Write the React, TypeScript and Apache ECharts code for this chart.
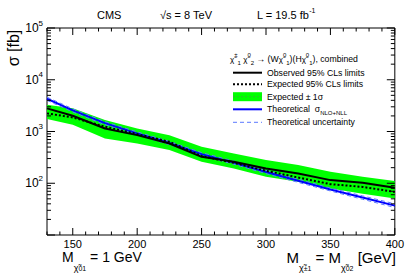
import React, { useEffect, useRef } from 'react';
import * as echarts from 'echarts';

const masses = [130, 150, 175, 200, 225, 250, 275, 300, 325, 350, 375, 400];
const observed = [2800, 2015, 1145, 851, 587, 324, 260, 193, 155, 115, 102, 82];
const expected = [2240, 1870, 1235, 890, 633, 334, 248, 174, 129, 96, 85, 68];
const expUp = [3300, 2800, 1660, 1145, 851, 507, 377, 280, 224, 166, 133, 111];
const expDown = [1750, 1350, 735, 588, 437, 260, 193, 133, 107, 79, 63, 51];
const theory = [4300, 2560, 1450, 920, 600, 365, 250, 165, 112, 76, 53, 37];
const theoryUp = [4600, 2740, 1550, 985, 642, 391, 268, 177, 120, 81, 57, 40];
const theoryDown = [4000, 2380, 1350, 856, 558, 340, 233, 153, 104, 71, 49, 34];

const xMajorTicks = [150, 200, 250, 300, 350, 400];
const xMinorTicks = [130, 140, 160, 170, 180, 190, 210, 220, 230, 240, 260, 270, 280, 290, 310, 320, 330, 340, 360, 370, 380, 390];
const yMajorTicks = [10, 100, 1000, 10000, 100000];
const yMinorTicks = [
  20, 30, 40, 50, 60, 70, 80, 90,
  200, 300, 400, 500, 600, 700, 800, 900,
  2000, 3000, 4000, 5000, 6000, 7000, 8000, 9000,
  20000, 30000, 40000, 50000, 60000, 70000, 80000, 90000,
];
const X_MIN = 130;
const X_MAX = 400;
const Y_MIN = 10;
const Y_MAX = 100000;

const F = '"Liberation Sans", Arial, Helvetica, sans-serif';

export default function App() {
  const ref = useRef<HTMLDivElement>(null);
  useEffect(() => {
    if (!ref.current) return;
    const chart = echarts.init(ref.current, undefined, { renderer: 'svg' });

    const xTickData = [
      ...xMajorTicks.map((v) => [v, 100, 1]),
      ...xMinorTicks.map((v) => [v, 100, 0]),
    ];
    const yTickData = [
      ...yMajorTicks.map((v) => [X_MIN, v, 1]),
      ...yMinorTicks.map((v) => [X_MIN, v, 0]),
    ];

    const legendRich = {
      n: { fontSize: 8.7, fontFamily: F, fill: '#000', lineHeight: 14, verticalAlign: 'middle' },
      c: { fontSize: 8, fontFamily: F, fill: '#000', lineHeight: 14, verticalAlign: 'middle' },
      sp: { fontSize: 6, fontFamily: F, fill: '#000', lineHeight: 6, verticalAlign: 'top' },
      sb: { fontSize: 6, fontFamily: F, fill: '#000', lineHeight: 6, verticalAlign: 'bottom' },
    };
    const titleRich = {
      n: { fontSize: 15, fontFamily: F, fill: '#000', lineHeight: 30, verticalAlign: 'middle' },
      chi: { fontSize: 9, fontFamily: F, fill: '#000', lineHeight: 19, verticalAlign: 'bottom' },
      up: { fontSize: 7, fontFamily: F, fill: '#000', lineHeight: 30, verticalAlign: 'bottom' },
      dn: { fontSize: 7, fontFamily: F, fill: '#000', lineHeight: 12, verticalAlign: 'bottom' },
    };

    const legendY = [72.7, 84.3, 96.7, 109.3, 122.3];
    const lx1 = 233;
    const lx2 = 262;
    const tx = 267;

    const option: any = {
      animation: false,
      grid: {
        left: 47, right: 12, top: 28, bottom: 42,
        show: true, borderColor: '#000', borderWidth: 1, backgroundColor: 'transparent',
      },
      xAxis: {
        type: 'value', min: X_MIN, max: X_MAX, interval: 10,
        axisLine: { show: false }, axisTick: { show: false }, splitLine: { show: false },
        axisLabel: {
          interval: 0, margin: 3, color: '#000', fontSize: 11, fontFamily: F,
          formatter: (v: number) => (v % 50 === 0 ? String(v) : ''),
        },
      },
      yAxis: {
        type: 'log', logBase: 10, min: Y_MIN, max: Y_MAX,
        axisLine: { show: false }, axisTick: { show: false }, splitLine: { show: false },
        axisLabel: {
          margin: 4, color: '#000', fontFamily: F,
          formatter: (v: number) => {
            const e = Math.round(Math.log10(v));
            if (e <= 1) return '';
            return '{b|10}{s|' + e + '}';
          },
          rich: {
            b: { fontSize: 12, fontFamily: F, color: '#000', lineHeight: 18, verticalAlign: 'middle' },
            s: { fontSize: 8, fontFamily: F, color: '#000', lineHeight: 8, verticalAlign: 'top' },
          },
        },
      },
      series: [
        {
          name: 'Expected ±1σ', type: 'custom', silent: true, z: 1,
          data: masses.map((m, i) => [m, expDown[i], expUp[i]]),
          encode: { x: 0, y: [1, 2] },
          renderItem: (params: any, api: any) => {
            if (params.dataIndex !== 0) return null;
            const pts: number[][] = [];
            for (let i = 0; i < masses.length; i++) pts.push(api.coord([masses[i], expUp[i]]));
            for (let i = masses.length - 1; i >= 0; i--) pts.push(api.coord([masses[i], expDown[i]]));
            return { type: 'polygon', shape: { points: pts }, style: { fill: '#00ff00', stroke: 'none' } };
          },
        },
        {
          name: 'Theoretical', type: 'line', symbol: 'none', z: 3,
          data: masses.map((m, i) => [m, theory[i]]),
          lineStyle: { color: '#0000ff', width: 2 },
        },
        {
          name: 'Theory up', type: 'line', symbol: 'none', z: 4,
          data: masses.map((m, i) => [m, theoryUp[i]]),
          lineStyle: { color: '#5a78ff', width: 1, type: [4, 3] },
        },
        {
          name: 'Theory down', type: 'line', symbol: 'none', z: 4,
          data: masses.map((m, i) => [m, theoryDown[i]]),
          lineStyle: { color: '#5a78ff', width: 1, type: [4, 3] },
        },
        {
          name: 'Expected', type: 'line', symbol: 'none', z: 5,
          data: masses.map((m, i) => [m, expected[i]]),
          lineStyle: { color: '#000', width: 2, type: [2, 2] },
        },
        {
          name: 'Observed', type: 'line', symbol: 'none', z: 6,
          data: masses.map((m, i) => [m, observed[i]]),
          lineStyle: { color: '#000', width: 2 },
        },
        {
          type: 'custom', silent: true, clip: false, z: 10,
          data: xTickData, encode: { x: 0, y: 1 },
          renderItem: (_p: any, api: any) => {
            const v = api.value(0);
            const len = api.value(2) === 1 ? 7 : 3.5;
            const b = api.coord([v, Y_MIN]);
            const t = api.coord([v, Y_MAX]);
            return {
              type: 'group', children: [
                { type: 'line', shape: { x1: b[0], y1: b[1], x2: b[0], y2: b[1] - len }, style: { stroke: '#000', lineWidth: 1 } },
                { type: 'line', shape: { x1: t[0], y1: t[1], x2: t[0], y2: t[1] + len }, style: { stroke: '#000', lineWidth: 1 } },
              ],
            };
          },
        },
        {
          type: 'custom', silent: true, clip: false, z: 10,
          data: yTickData, encode: { x: 0, y: 1 },
          renderItem: (_p: any, api: any) => {
            const v = api.value(1);
            const len = api.value(2) === 1 ? 8 : 4;
            const l = api.coord([X_MIN, v]);
            const r = api.coord([X_MAX, v]);
            return {
              type: 'group', children: [
                { type: 'line', shape: { x1: l[0], y1: l[1], x2: l[0] + len, y2: l[1] }, style: { stroke: '#000', lineWidth: 1 } },
                { type: 'line', shape: { x1: r[0], y1: r[1], x2: r[0] - len, y2: r[1] }, style: { stroke: '#000', lineWidth: 1 } },
              ],
            };
          },
        },
      ],
      graphic: [
        { type: 'text', left: 97, top: 9, style: { text: 'CMS', fontSize: 11, fontFamily: F, fill: '#000' } },
        { type: 'text', left: 160, top: 9, style: { text: '√s = 8 TeV', fontSize: 11, fontFamily: F, fill: '#000' } },
        {
          type: 'text', x: 257, y: 15,
          style: {
            text: '{n|L = 19.5 fb}{s|-1}', verticalAlign: 'middle', align: 'left',
            rich: {
              n: { fontSize: 11, fontFamily: F, fill: '#000', lineHeight: 16, verticalAlign: 'middle' },
              s: { fontSize: 7, fontFamily: F, fill: '#000', lineHeight: 7, verticalAlign: 'top' },
            },
          },
        },
        {
          type: 'text', x: 13, y: 48, rotation: Math.PI / 2,
          style: { text: 'σ [fb]', fontSize: 16, fontFamily: F, fill: '#000', align: 'center', verticalAlign: 'middle' },
        },
        {
          type: 'text', x: 396, y: 257,
          style: {
            text: '{n|M}{chi|χ̃}{up|±}{dn|1}{n| = M}{chi|χ̃}{up|0}{dn|2}{n| [GeV]}',
            align: 'right', verticalAlign: 'middle', rich: titleRich,
          },
        },
        {
          type: 'text', x: 62, y: 257,
          style: {
            text: '{n|M}{chi|χ̃}{up|0}{dn|1}{n| = 1 GeV}',
            align: 'left', verticalAlign: 'middle',
            rich: {
              n: { fontSize: 14, fontFamily: F, fill: '#000', lineHeight: 30, verticalAlign: 'middle' },
              chi: { fontSize: 9, fontFamily: F, fill: '#000', lineHeight: 19, verticalAlign: 'bottom' },
              up: { fontSize: 7, fontFamily: F, fill: '#000', lineHeight: 30, verticalAlign: 'bottom' },
              dn: { fontSize: 7, fontFamily: F, fill: '#000', lineHeight: 12, verticalAlign: 'bottom' },
            },
          },
        },
        {
          type: 'text', x: 230, y: 59,
          style: {
            text: '{c|χ̃}{sp|±}{sb|1}{n| }{c|χ̃}{sp|0}{sb|2}{n| → (W}{c|χ̃}{sp|0}{sb|1}{n|)(H}{c|χ̃}{sp|0}{sb|1}{n|), combined}',
            align: 'left', verticalAlign: 'middle', rich: legendRich,
          },
        },
        { type: 'line', shape: { x1: lx1, y1: legendY[0], x2: lx2, y2: legendY[0] }, style: { stroke: '#000', lineWidth: 2 } },
        { type: 'text', x: tx, y: legendY[0], style: { text: 'Observed 95% CLs limits', fontSize: 8.7, fontFamily: F, fill: '#000', verticalAlign: 'middle' } },
        { type: 'line', shape: { x1: lx1, y1: legendY[1], x2: lx2, y2: legendY[1] }, style: { stroke: '#000', lineWidth: 2, lineDash: [2, 2] } },
        { type: 'text', x: tx, y: legendY[1], style: { text: 'Expected 95% CLs limits', fontSize: 8.7, fontFamily: F, fill: '#000', verticalAlign: 'middle' } },
        { type: 'rect', shape: { x: lx1, y: legendY[2] - 4.5, width: lx2 - lx1, height: 9 }, style: { fill: '#00ff00' } },
        { type: 'line', shape: { x1: lx1, y1: legendY[2], x2: lx2, y2: legendY[2] }, style: { stroke: '#33bb33', lineWidth: 1, lineDash: [2, 2] } },
        { type: 'text', x: tx, y: legendY[2], style: { text: 'Expected ± 1σ', fontSize: 8.7, fontFamily: F, fill: '#000', verticalAlign: 'middle' } },
        { type: 'line', shape: { x1: lx1, y1: legendY[3], x2: lx2, y2: legendY[3] }, style: { stroke: '#0000ff', lineWidth: 2 } },
        {
          type: 'text', x: tx, y: legendY[3],
          style: {
            text: '{n|Theoretical  σ}{sb|NLO+NLL}', verticalAlign: 'middle', align: 'left',
            rich: legendRich,
          },
        },
        { type: 'line', shape: { x1: lx1, y1: legendY[4], x2: lx2, y2: legendY[4] }, style: { stroke: '#5a78ff', lineWidth: 1, lineDash: [4, 3] } },
        { type: 'text', x: tx, y: legendY[4], style: { text: 'Theoretical uncertainty', fontSize: 8.7, fontFamily: F, fill: '#000', verticalAlign: 'middle' } },
      ],
    };
    chart.setOption(option);
    return () => chart.dispose();
  }, []);
  return (
    <div
      ref={ref}
      style={{ position: 'absolute', left: 0, top: 0, width: 407, height: 277, background: '#fff' }}
    />
  );
}
